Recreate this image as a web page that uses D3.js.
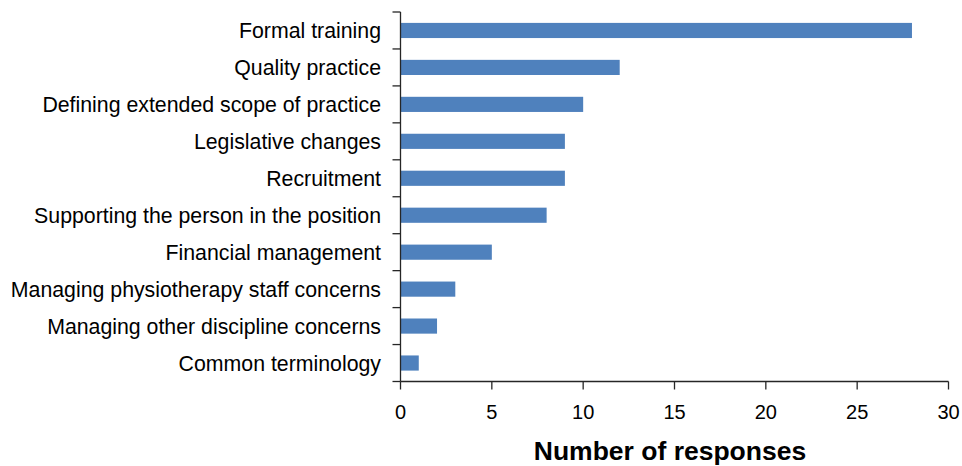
<!DOCTYPE html>
<html>
<head>
<meta charset="utf-8">
<script src="https://cdn.jsdelivr.net/npm/d3@7"></script>
<style>
  body { margin: 0; background: #fff; }
  svg text { font-family: "Liberation Sans", Arial, sans-serif; fill: #000; }
</style>
</head>
<body>
<svg id="chart" width="962" height="466"></svg>
<script>
// categories top to bottom
var categories = [
  "Formal training",
  "Quality practice",
  "Defining extended scope of practice",
  "Legislative changes",
  "Recruitment",
  "Supporting the person in the position",
  "Financial management",
  "Managing physiotherapy staff concerns",
  "Managing other discipline concerns",
  "Common terminology"
];
var responses = [28, 12, 10, 9, 9, 8, 5, 3, 2, 1];
var xTicks = [0, 5, 10, 15, 20, 25, 30];

var svg = d3.select("#chart");
var plotLeft = 400.5, plotRight = 948.5, plotTop = 12, plotBottom = 381.5;

var x = d3.scaleLinear().domain([0, 30]).range([plotLeft, plotRight]);
var y = d3.scaleBand().domain(categories).range([plotTop, plotBottom]).paddingInner(0.59).paddingOuter(0.295);

// bars
svg.append("g").selectAll("rect")
  .data(categories)
  .enter().append("rect")
  .attr("x", x(0))
  .attr("y", function(d) { return y(d); })
  .attr("width", function(d, i) { return x(responses[i]) - x(0); })
  .attr("height", y.bandwidth())
  .attr("fill", "#4f81bd");

// y axis line + ticks at category boundaries
var step = (plotBottom - plotTop) / categories.length;
var yAxis = svg.append("g").attr("stroke", "#262626").attr("stroke-width", 1.3);
yAxis.append("line").attr("x1", plotLeft).attr("x2", plotLeft).attr("y1", plotTop).attr("y2", plotBottom);
d3.range(categories.length + 1).forEach(function(i) {
  yAxis.append("line")
    .attr("x1", plotLeft - 8).attr("x2", plotLeft)
    .attr("y1", plotTop + i * step).attr("y2", plotTop + i * step);
});

// category labels
svg.append("g").selectAll("text")
  .data(categories)
  .enter().append("text")
  .attr("x", 381)
  .attr("y", function(d) { return y(d) + y.bandwidth() / 2; })
  .attr("dy", "0.37em")
  .attr("text-anchor", "end")
  .attr("font-size", "21.3px")
  .text(function(d) { return d; });

// x axis
var xAxis = svg.append("g").attr("stroke", "#262626").attr("stroke-width", 1.3);
xAxis.append("line").attr("x1", plotLeft).attr("x2", plotRight).attr("y1", plotBottom).attr("y2", plotBottom);
xAxis.selectAll("line.tick")
  .data(xTicks)
  .enter().append("line")
  .attr("class", "tick")
  .attr("x1", function(d) { return x(d); }).attr("x2", function(d) { return x(d); })
  .attr("y1", plotBottom).attr("y2", plotBottom + 8);

svg.append("g").selectAll("text")
  .data(xTicks)
  .enter().append("text")
  .attr("x", function(d) { return x(d); })
  .attr("y", 418.5)
  .attr("text-anchor", "middle")
  .attr("font-size", "20px")
  .text(function(d) { return d; });

// axis title
svg.append("text")
  .attr("x", 670)
  .attr("y", 460)
  .attr("text-anchor", "middle")
  .attr("font-size", "26.5px")
  .attr("font-weight", "bold")
  .text("Number of responses");
</script>
</body>
</html>
